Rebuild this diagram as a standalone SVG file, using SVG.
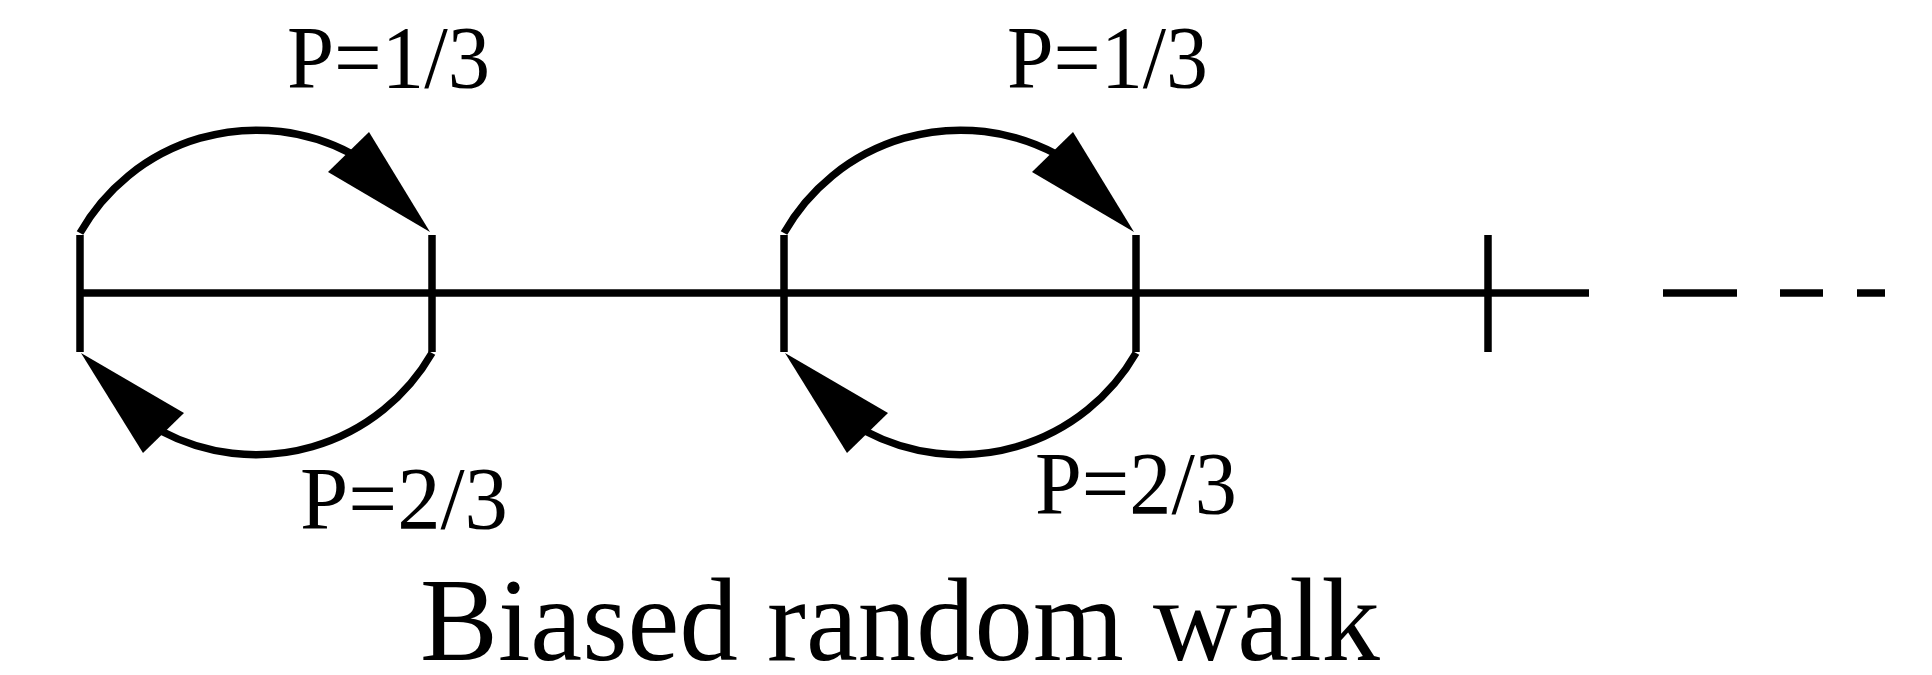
<svg xmlns="http://www.w3.org/2000/svg" width="1932" height="675" viewBox="0 0 1932 675">
<style>
.ln{stroke:#000;stroke-width:7.5;fill:none}
.ah{fill:#000;stroke:none}
.lbl{font-family:"Liberation Serif","Times New Roman",serif;font-size:88px;fill:#000}
.ttl{font-family:"Liberation Serif","Times New Roman",serif;font-size:118px;fill:#000}
</style>
<rect width="1932" height="675" fill="#fff"/>
<g id="axis">
<line class="ln" x1="80" y1="293" x2="1589" y2="293"/>
<line class="ln" x1="1663" y1="293" x2="1737" y2="293"/>
<line class="ln" x1="1780" y1="293" x2="1823" y2="293"/>
<line class="ln" x1="1857" y1="293" x2="1885" y2="293"/>
</g>
<g id="site0"><line class="ln" x1="80" y1="235" x2="80" y2="352"/></g>
<g id="site1"><line class="ln" x1="432" y1="235" x2="432" y2="352"/></g>
<g id="site2"><line class="ln" x1="784" y1="235" x2="784" y2="352"/></g>
<g id="site3"><line class="ln" x1="1136" y1="235" x2="1136" y2="352"/></g>
<g id="site4"><line class="ln" x1="1488" y1="235" x2="1488" y2="352"/></g>
<g id="connectors">
<path class="ln" d="M 80 233 A 203 203 0 0 1 352 154"/>
<polygon class="ah" points="430,232 369,132 328,172"/>
<path class="ln" d="M 432 353 A 203 203 0 0 1 161 431"/>
<polygon class="ah" points="81,353 184,413 143,453"/>
<path class="ln" d="M 784 233 A 203 203 0 0 1 1056 154"/>
<polygon class="ah" points="1134,232 1073,132 1032,172"/>
<path class="ln" d="M 1136 353 A 203 203 0 0 1 865 431"/>
<polygon class="ah" points="785,353 888,413 847,453"/>
</g>
<g id="labels">
<text class="lbl" x="287" y="87" textLength="203" lengthAdjust="spacingAndGlyphs">P=1/3</text>
<text class="lbl" x="1007" y="87" textLength="201" lengthAdjust="spacingAndGlyphs">P=1/3</text>
<text class="lbl" x="300" y="528" textLength="208" lengthAdjust="spacingAndGlyphs">P=2/3</text>
<text class="lbl" x="1035" y="513" textLength="202" lengthAdjust="spacingAndGlyphs">P=2/3</text>
<text class="ttl" x="420" y="660" textLength="960" lengthAdjust="spacingAndGlyphs">Biased random walk</text>
</g>
</svg>
